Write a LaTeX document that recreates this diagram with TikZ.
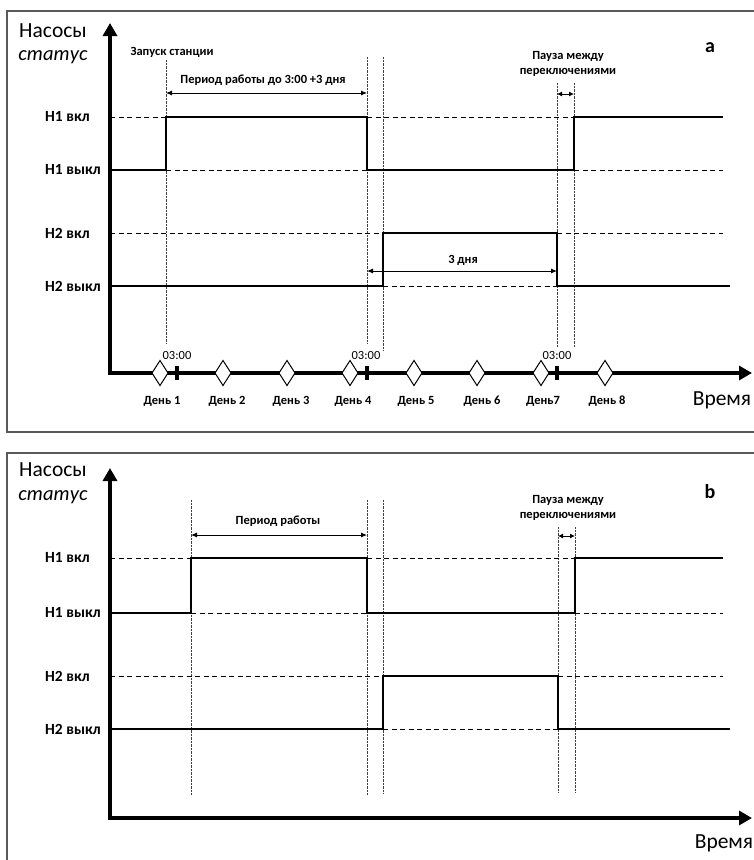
\documentclass[tikz,border=0pt]{standalone}
\usepackage{fontspec}
\setmainfont{Carlito}
\usetikzlibrary{arrows.meta}

\begin{document}
\begin{tikzpicture}[x=1pt,y=-1pt,
  frame/.style={draw=black!65,line width=1.4pt},
  axis/.style={line width=3.5pt,{Triangle[length=13pt,width=14pt]}-{Triangle[length=13pt,width=14pt]}},
  signal/.style={line width=1.8pt},
  level/.style={line width=1pt,dash pattern=on 5pt off 3.5pt},
  guide/.style={black!75,line width=0.9pt,dash pattern=on 0.8pt off 0.6pt},
  dim/.style={line width=0.9pt,{Latex[length=6pt,width=5pt]}-{Latex[length=6pt,width=5pt]}},
  lbl/.style={font=\fontsize{15.5}{17}\selectfont\bfseries,anchor=west,inner sep=0pt},
  note/.style={font=\fontsize{12.5}{15}\selectfont\bfseries,align=center,inner sep=0pt},
  clock/.style={font=\fontsize{12.5}{14}\selectfont,inner sep=0pt},
  big/.style={font=\fontsize{21.5}{24}\selectfont,inner sep=0pt},
  tag/.style={font=\fontsize{20}{22}\selectfont\bfseries,inner sep=0pt}]
\useasboundingbox (0,0) rectangle (754,860);
\clip (0,0) rectangle (754,860);

% ---- panel a
\draw[frame] (7,11) rectangle (780,432);
\draw[axis] (110,23) -- (110,373) -- (752,373);
\node[big] (pumpsA) at (53,31) {Насосы};
\node[big,font=\fontsize{20.5}{24}\selectfont\itshape] (statA) at (53,57) {статус};
\node[tag] (tagA) at (710,48) {a};
\node[big] (timeA) at (722,400) {Время};

\node[lbl] (h1onA) at (45,117) {Н1 вкл};
\node[lbl] (h1offA) at (45,170) {Н1 выкл};
\node[lbl] (h2onA) at (45,233) {Н2 вкл};
\node[lbl] (h2offA) at (45,286) {Н2 выкл};

% guides
\draw[guide] (166,60) -- (166,343);
\draw[guide] (367,57) -- (367,343);
\draw[guide] (383,57) -- (383,350);
\draw[guide] (557,83) -- (557,347);
\draw[guide] (574,83) -- (574,347);

% pump signals
\draw[level] (110,117) -- (166,117) (367,117) -- (574,117);
\draw[level] (166,170) -- (367,170) (574,170) -- (723,170);
\draw[signal] (110,170) -- (166,170) -- (166,117) -- (367,117) -- (367,170)
  -- (574,170) -- (574,117) -- (723,117);
\draw[level] (110,233) -- (383,233) (557,233) -- (723,233);
\draw[level] (383,286) -- (557,286);
\draw[signal] (110,286) -- (383,286) -- (383,233) -- (557,233) -- (557,286) -- (730,286);

% notes
\node[note] (startA) at (172,52) {Запуск станции};
\node[note] (runA) at (263,80) {Период работы до 3:00 +3 дня};
\coordinate (runAl) at (166,93);
\coordinate (runAr) at (367,93);
\draw[dim] (runAl) -- (runAr);
\node[note] (pauseA) at (568,64) {Пауза между\\переключениями};
\coordinate (pauseAl) at (557,94);
\coordinate (pauseAr) at (574,94);
\draw[dim,{Latex[length=5pt,width=5pt]}-{Latex[length=5pt,width=5pt]}] (pauseAl) -- (pauseAr);
\node[note] (threeA) at (463,260) {3 дня};
\coordinate (threeAl) at (367,271);
\coordinate (threeAr) at (557,271);
\draw[dim] (threeAl) -- (threeAr);

% days
\foreach \x in {177,367,557}
  \fill (\x-2.2,366) rectangle (\x+2.2,380);
\foreach \x [count=\n] in {160,223,287,350,414,477,541,605}
  \draw[fill=white,line width=1pt] (\x,360.5) -- (\x+8,373) -- (\x,385.5) -- (\x-8,373) -- cycle;
\foreach \x/\t [count=\n] in {162/День 1,227/День 2,291/День 3,353/День 4,416/День 5,482/День 6,543/День7,607/День 8}
  \node[note] (day\n) at (\x,401) {\t};
\node[clock] (clk1) at (177,355) {03:00};
\node[clock] (clk2) at (366,355) {03:00};
\node[clock] (clk3) at (557,355) {03:00};

% ---- panel b
\draw[frame] (7,453) rectangle (780,900);
\draw[axis] (110,468) -- (110,818) -- (752,818);
\node[big] (pumpsB) at (53,470) {Насосы};
\node[big,font=\fontsize{20.5}{24}\selectfont\itshape] (statB) at (53,497) {статус};
\node[tag] (tagB) at (710,492) {b};
\node[big] (timeB) at (724,843) {Время};

\node[lbl] (h1onB) at (45,558) {Н1 вкл};
\node[lbl] (h1offB) at (45,613) {Н1 выкл};
\node[lbl] (h2onB) at (45,676) {Н2 вкл};
\node[lbl] (h2offB) at (45,729) {Н2 выкл};

\draw[guide] (191,500) -- (191,795);
\draw[guide] (367,500) -- (367,795);
\draw[guide] (383,500) -- (383,793);
\draw[guide] (558,527) -- (558,792);
\draw[guide] (575,527) -- (575,792);

\draw[level] (110,558) -- (191,558) (367,558) -- (575,558);
\draw[level] (191,613) -- (367,613) (575,613) -- (723,613);
\draw[signal] (110,613) -- (191,613) -- (191,558) -- (367,558) -- (367,613)
  -- (575,613) -- (575,558) -- (723,558);
\draw[level] (110,676) -- (383,676) (558,676) -- (723,676);
\draw[level] (383,729) -- (558,729);
\draw[signal] (110,729) -- (383,729) -- (383,676) -- (558,676) -- (558,729) -- (730,729);

\node[note] (runB) at (278,521) {Период работы};
\coordinate (runBl) at (191,535);
\coordinate (runBr) at (367,535);
\draw[dim] (runBl) -- (runBr);
\node[note] (pauseB) at (568,508) {Пауза между\\переключениями};
\coordinate (pauseBl) at (558,536);
\coordinate (pauseBr) at (575,536);
\draw[dim,{Latex[length=5pt,width=5pt]}-{Latex[length=5pt,width=5pt]}] (pauseBl) -- (pauseBr);
\end{tikzpicture}
\end{document}
